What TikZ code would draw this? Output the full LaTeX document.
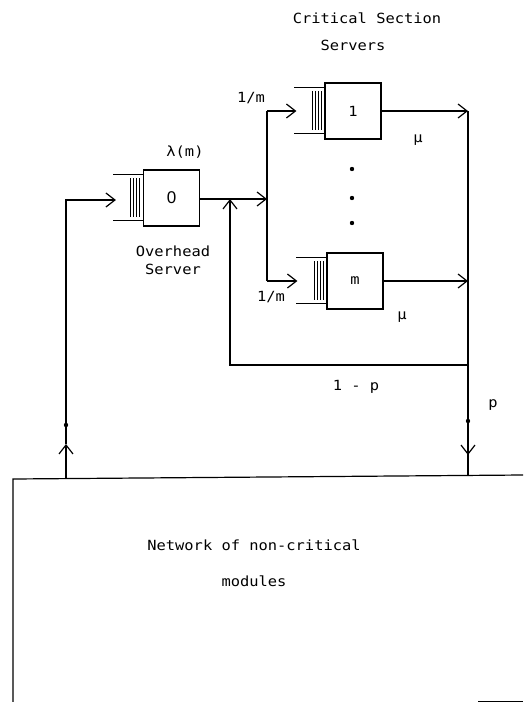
\documentclass[tikz,border=0pt]{standalone}
\usepackage{fontspec}
\setmonofont[FakeStretch=1.1]{DejaVu Sans Mono}
\newfontfamily\digitfont{Liberation Sans}
\usetikzlibrary{arrows.meta,calc}
\tikzset{
  srv/.style={draw, line width=1.2pt, minimum width=56pt, minimum height=56pt, inner sep=0pt, font=\ttfamily\fontsize{14}{16}\selectfont},
  lbl/.style={inner sep=0pt, font=\ttfamily\fontsize{14}{16}\selectfont},
  arr/.style={-{Straight Barb[length=9pt,width=14pt,line width=1.2pt]}},
  ln/.style={line width=1.2pt},
  dotmark/.style={fill=black}
}
\newcommand\myqueue[1]{%
  \draw[ln] ($(#1.north west)+(0,5)$) -- ++(-30,0);
  \draw[ln] ($(#1.south west)+(0,-6)$) -- ++(-30,0);
  \foreach \i in {3,6,9,12}{\draw[line width=0.9pt] ($(#1.north west)+(-\i,9)$) -- ($(#1.south west)+(-\i,-10)$);}
}
\begin{document}
\begin{tikzpicture}[x=1pt,y=-1pt]
\useasboundingbox (0,0) rectangle (523,702);
% servers
\node[srv] (b0) at (171.5,198) {\digitfont\fontsize{17}{19}\selectfont 0};
\node[srv] (b1) at (353,111) {1};
\node[srv] (bm) at (355,281) {m};
\myqueue{b0}
\myqueue{b1}
\myqueue{bm}
% queue entry points
\coordinate (q0) at ($(b0.west)+(-27,2)$);
\coordinate (q1) at ($(b1.west)+(-28,0)$);
\coordinate (qm) at ($(bm.west)+(-29,0)$);
% junctions
\coordinate (j0) at (267,199);
\coordinate (t1) at (267,111);
\coordinate (tm) at (267,281);
\coordinate (r1) at (468,111);
\coordinate (rm) at (468,281);
\coordinate (rf) at (468,365);
\coordinate (fl) at (230,365);
\coordinate (fu) at (230,199);
\coordinate (rdot) at (468,421);
\coordinate (rarr) at (468,455);
\coordinate (rbot) at (468,476);
\coordinate (lbot) at (66,479);
\coordinate (larr) at (66,444);
\coordinate (ldot) at (66,425);
\coordinate (ltop) at (66,200);
% network box
\draw[ln] (523,475) -- (13,479) -- (13,702);
\draw[line width=1.5pt] (478,701.5) -- (523,701.5);
% connectors
\draw[ln,arr] (b0.east |- j0) -- (j0);
\draw[ln] (t1) -- (tm);
\draw[ln,arr] (t1) -- (q1);
\draw[ln,arr] (tm) -- (qm);
\draw[ln,arr] (b1.east) -- (r1);
\draw[ln,arr] (bm.east) -- (rm);
\draw[ln] (r1) -- (rarr);
\draw[ln,arr] (rdot) -- (rarr);
\draw[ln] (rarr) -- (rbot);
\draw[ln,arr] (rf) -- (fl) -- (fu);
\draw[ln,arr] (lbot) -- (larr);
\draw[ln,arr] (larr) -- (ltop) -- (q0);
\fill[dotmark] (rdot) circle (2.2);
\fill[dotmark] (ldot) circle (2.2);
% vertical dots
\fill[dotmark] (352,169) circle (2.2);
\fill[dotmark] (352,198) circle (2.2);
\fill[dotmark] (352,223) circle (2.2);
% labels
\node[lbl] (t1a) at (367,18) {Critical Section};
\node[lbl] (t1b) at (353,45) {Servers};
\node[lbl] (lam) at (185,152) {λ(m)};
\node[lbl] (oh1) at (173,251) {Overhead};
\node[lbl] (oh2) at (173,269) {Server};
\node[lbl] (p1) at (251,98) {1/m};
\node[lbl] (pm) at (271,297) {1/m};
\node[lbl] (mu1) at (418,140) {μ};
\node[lbl] (mu2) at (402,317) {μ};
\node[lbl] (omp) at (356,387) {1 - p};
\node[lbl] (pp) at (493,405) {p};
\node[lbl] (net1) at (254,545) {Network of non-critical};
\node[lbl] (net2) at (254,581) {modules};
\end{tikzpicture}
\end{document}
